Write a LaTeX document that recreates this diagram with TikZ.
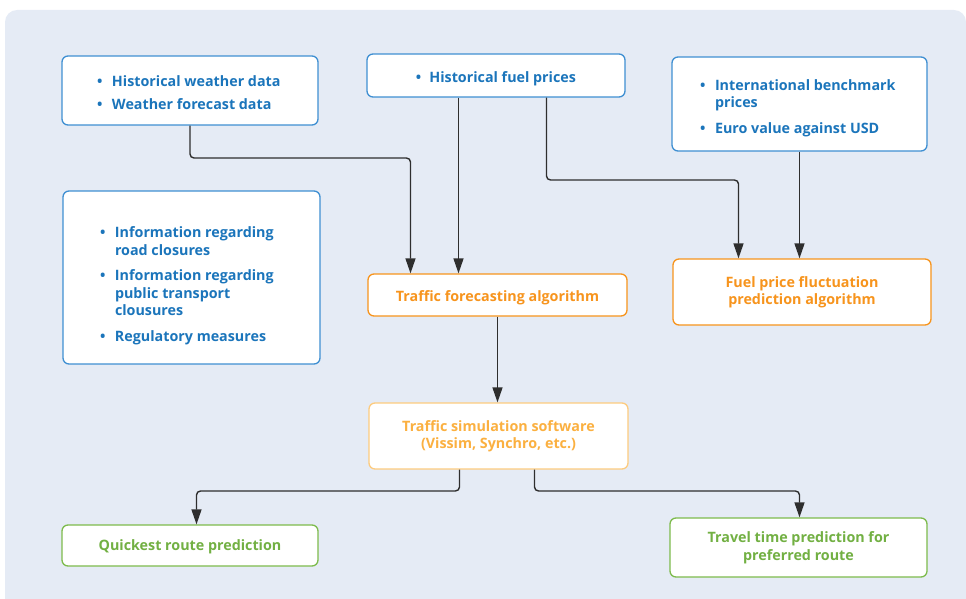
\documentclass[tikz,border=0pt]{standalone}
\usepackage{fontspec}
\setmainfont{Open Sans}
\usetikzlibrary{arrows.meta}

\definecolor{bgpanel}{HTML}{E5EBF5}
\definecolor{bluetxt}{HTML}{1B75BB}
\definecolor{blueline}{HTML}{3F8FD2}
\definecolor{orangetxt}{HTML}{F7941D}
\definecolor{orangeline}{HTML}{F7941D}
\definecolor{ambertxt}{HTML}{FBB040}
\definecolor{amberline}{HTML}{FDCB7E}
\definecolor{greentxt}{HTML}{72B043}
\definecolor{greenline}{HTML}{7DBB4C}
\definecolor{wire}{HTML}{2E2E2E}

\newcommand{\labelfont}{\fontsize{14.3}{17.5}\selectfont\bfseries}
% lower a label inside its card without changing the card's centring
\newcommand{\nudge}[2]{\raisebox{-#1}[\height][\depth]{#2}}
% bullet list set in a box of the node's full width, indented from the left
\newcommand{\itemline}[1]{\makebox[15pt][l]{\textbullet}#1}
\newcommand{\contline}[1]{\hspace*{15pt}#1}
% #1 width, #2 left indent, #3 downward nudge, #4 lines
\newcommand{\bulletblock}[4]{\nudge{#3}{\makebox[#1][l]{\hspace*{#2}\parbox[c]{#1}{\labelfont #4}}}}

\tikzset{
  card/.style={draw, fill=white, rounded corners=6pt, line width=1.3pt,
    inner sep=0pt, font=\labelfont, align=center},
  inputcard/.style={card, draw=blueline, text=bluetxt},
  algocard/.style={card, draw=orangeline, text=orangetxt},
  simcard/.style={card, draw=amberline, text=ambertxt},
  outcard/.style={card, draw=greenline, text=greentxt},
  conn/.style={draw=wire, line width=1.4pt, rounded corners=4pt,
    -{Triangle[length=15pt,width=10pt]}},
}

\begin{document}
\begin{tikzpicture}[x=1pt,y=-1pt]
\useasboundingbox (0,0) rectangle (966,599);
% panel
\fill[bgpanel] (5,599) [rounded corners=12pt] -- (5,10) -- (966,10) [sharp corners] -- (966,599) -- cycle;

% inputs
\node[inputcard, minimum width=256pt, minimum height=69pt] (weather) at (190,90.5)
  {\bulletblock{256pt}{35pt}{2pt}{\itemline{Historical weather data}\\[5pt]\itemline{Weather forecast data}}};
\node[inputcard, minimum width=258pt, minimum height=43pt] (fuel) at (496,75.5)
  {\nudge{3pt}{\textbullet\hspace{8pt}Historical fuel prices}};
\node[inputcard, minimum width=255pt, minimum height=94pt] (bench) at (799.5,104)
  {\bulletblock{255pt}{28pt}{4pt}{\itemline{International benchmark}\\\contline{prices}\\[8pt]\itemline{Euro value against USD}}};
\node[inputcard, minimum width=257pt, minimum height=173pt] (closures) at (191.5,277.5)
  {\bulletblock{257pt}{37pt}{3pt}{\vspace*{10pt}\itemline{Information regarding}\\\contline{road closures}\\[8pt]\itemline{Information regarding}\\\contline{public transport}\\\contline{clousures}\\[8pt]\itemline{Regulatory measures}}};

% algorithms
\node[algocard, minimum width=259pt, minimum height=42pt] (fcast) at (497.5,295) {\nudge{3pt}{Traffic forecasting algorithm}};
\node[algocard, minimum width=258pt, minimum height=66pt] (fluct) at (802,292) {Fuel price fluctuation\\prediction algorithm};

% simulation
\node[simcard, minimum width=259pt, minimum height=66pt] (sim) at (498.5,436) {Traffic simulation software\\(Vissim, Synchro, etc.)};

% outputs
\node[outcard, minimum width=256pt, minimum height=41pt] (quick) at (190,545.5) {\nudge{1.5pt}{Quickest route prediction}};
\node[outcard, minimum width=257pt, minimum height=59pt] (travel) at (798.5,547.5) {Travel time prediction for\\preferred route};

% connectors
\draw[conn] (weather.south) |- (410.5,158) -- (410.5,0 |- fcast.north);
\draw[conn] (458.5,0 |- fuel.south) -- (458.5,0 |- fcast.north);
\draw[conn] (546.5,0 |- fuel.south) |- (738.5,180) -- (738.5,0 |- fluct.north);
\draw[conn] (bench.south) -- (bench.south |- fluct.north);
\draw[conn] (fcast.south) -- (fcast.south |- sim.north);
\draw[conn] (459.5,0 |- sim.south) |- (196.5,491) -- (196.5,0 |- quick.north);
\draw[conn] (534.5,0 |- sim.south) |- (799.5,491) -- (799.5,0 |- travel.north);
\end{tikzpicture}
\end{document}
